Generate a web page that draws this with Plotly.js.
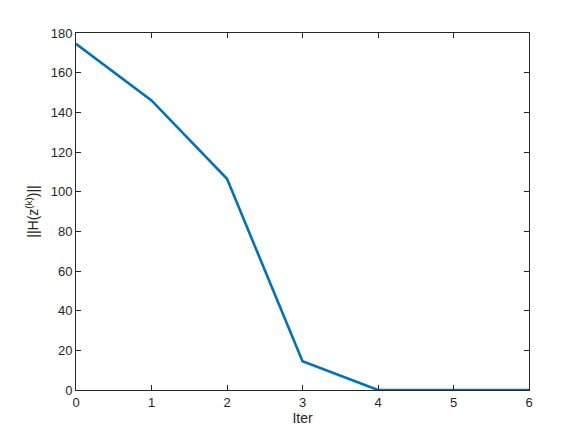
<!DOCTYPE html>
<html>
<head>
<meta charset="utf-8">
<script src="https://cdn.plot.ly/plotly-3.0.1.min.js"></script>
<style>
  html, body { margin: 0; padding: 0; background: #fff; }
  #plot { width: 584px; height: 438px; }
</style>
</head>
<body>
<div id="plot"></div>
<script>
// iteration number and residual norm
var iter = [0, 1, 2, 3, 4, 5, 6];
var resNorm = [174.5, 146, 106.5, 14.5, 0, 0, 0];

var trace = {
  x: iter,
  y: resNorm,
  mode: "lines",
  type: "scatter",
  line: { color: "#0072BD", width: 2.6 },
  cliponaxis: false,
  hoverinfo: "skip"
};

var axisStyle = {
  showline: true,
  linecolor: "#262626",
  linewidth: 1,
  mirror: "ticks",
  ticks: "inside",
  ticklen: 5,
  tickcolor: "#262626",
  showgrid: false,
  zeroline: false,
  tickfont: { family: "Liberation Sans, Arial, sans-serif", size: 13, color: "#262626" }
};

var layout = {
  width: 584,
  height: 438,
  margin: { l: 76, r: 55, t: 33, b: 48 },
  paper_bgcolor: "#fff",
  plot_bgcolor: "#fff",
  showlegend: false,
  xaxis: Object.assign({}, axisStyle, {
    range: [0, 6],
    tickvals: [0, 1, 2, 3, 4, 5, 6],
    title: { text: "Iter", standoff: 4,
      font: { family: "Liberation Sans, Arial, sans-serif", size: 14, color: "#262626" } }
  }),
  yaxis: Object.assign({}, axisStyle, {
    range: [0, 180],
    tickvals: [0, 20, 40, 60, 80, 100, 120, 140, 160, 180],
    title: { text: "||H(z<sup>(k)</sup>)||", standoff: 8,
      font: { family: "Liberation Sans, Arial, sans-serif", size: 14, color: "#262626" } }
  })
};

Plotly.newPlot("plot", [trace], layout, { displayModeBar: false, staticPlot: true });
</script>
</body>
</html>
